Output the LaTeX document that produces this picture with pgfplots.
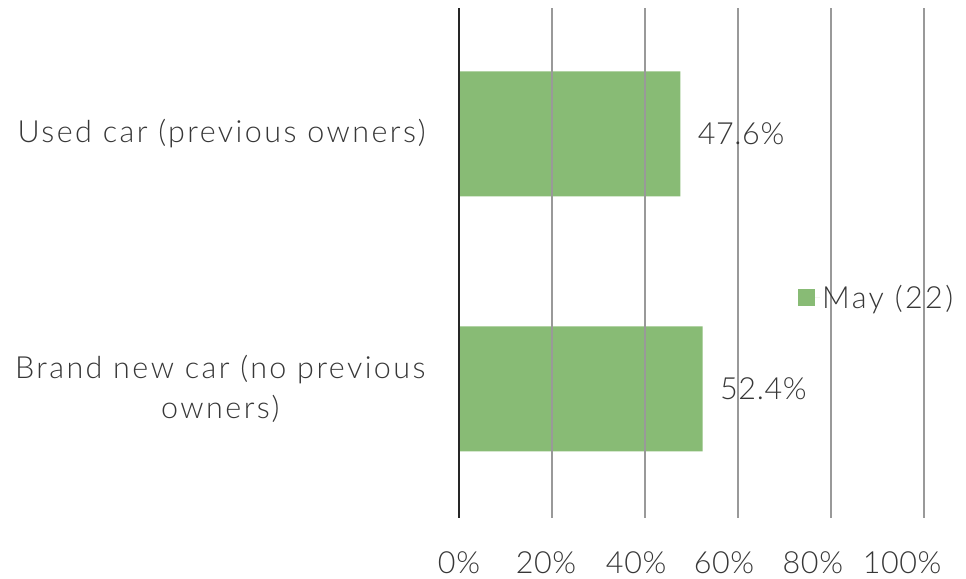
\documentclass[border=0pt]{standalone}
\usepackage{pgfplots}
\pgfplotsset{compat=1.18}
\usepackage{fontspec}
\setmainfont{Lato}[UprightFont=* Light, LetterSpace=8]
\newfontfamily\numfont{Lato}[UprightFont=* Light, LetterSpace=2]
\definecolor{bargreen}{RGB}{136,187,117}
\definecolor{txt}{RGB}{55,55,55}
\newcommand{\lbl}{\fontsize{30.5}{40}\selectfont}
\begin{document}
\begin{tikzpicture}[x=1pt,y=1pt]
\path[use as bounding box] (0,0) rectangle (966,578);
\begin{axis}[
  at={(459pt,60pt)}, anchor=south west,
  scale only axis, width=465pt, height=510pt,
  clip=false,
  xbar, bar width=125pt,
  xmin=0, xmax=100, ymin=-0.506, ymax=1.494,
  xtick={20,40,60,80,100},
  xticklabels={},
  extra x ticks={0,18.7,38.1,57.0,76.1,95.3},
  extra x tick labels={0\%,20\%,40\%,60\%,80\%,100\%},
  extra x tick style={grid=none},
  ytick={0,1},
  yticklabels={{Brand new car (no previous\\owners)},{Used car (previous owners)}},
  yticklabel style={align=center, font=\lbl, text=txt, xshift=-30pt},
  xticklabel style={font=\lbl\numfont, text=txt, yshift=-30pt},
  major tick length=0pt,
  axis line style={draw=none},
  xmajorgrids, grid style={draw=black!40, line width=1.5pt},
  axis on top,
  point meta=x,
  nodes near coords={\pgfmathprintnumber[fixed,precision=1,fixed zerofill]{\pgfplotspointmeta}\%},
  nodes near coords style={font=\lbl\numfont, text=txt, xshift=14pt},
  /pgf/number format/assume math mode=true,
  legend style={at={(0.7226,0.433)}, anchor=west, draw=none, fill=none,
    font=\lbl, text=txt},
  legend image code/.code={\fill[bargreen] (0pt,-8.5pt) rectangle (17pt,8.5pt);\path (0pt,0pt) -- (22pt,0pt);},
]
\addplot[fill=bargreen, draw=none] coordinates {(52.4,0) (47.6,1)};
\draw[black!85, line width=2pt] (axis cs:0,-0.506) -- (axis cs:0,1.494);
\legend{May (22)}
\end{axis}
\end{tikzpicture}
\end{document}
